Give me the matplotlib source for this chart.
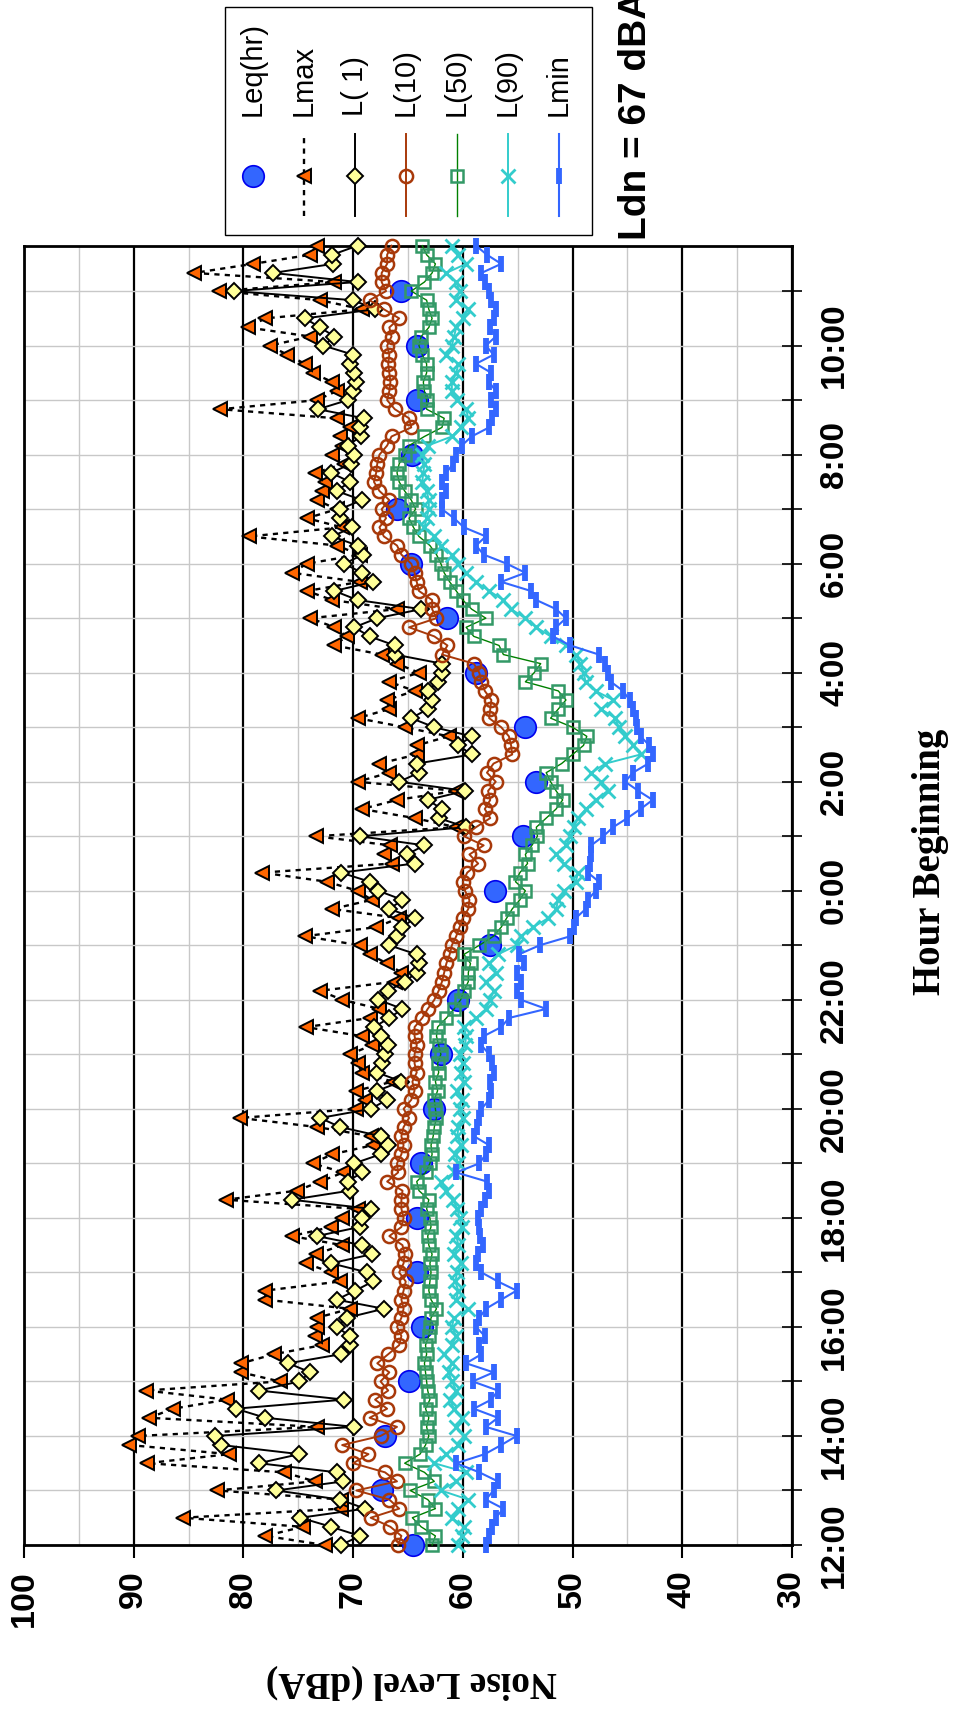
import matplotlib
matplotlib.use('Agg')
import matplotlib.pyplot as plt
from matplotlib.patches import Rectangle
import numpy as np

plt.rcParams['font.family'] = ['Liberation Sans', 'DejaVu Sans']

# hourly Leq, hour beginning 12:00 ... 11:00
leq_hr = [64.5, 67.4, 67.1, 64.9, 63.7, 64.2, 64.2, 63.8, 62.6, 62.0, 60.4, 57.5,
          57.1, 54.5, 53.3, 54.3, 58.8, 61.4, 64.7, 66.0, 64.6, 64.2, 64.2, 65.6]

# 10-minute values starting 12:00 (144 intervals)
lmax = [72.6, 78.0, 74.6, 85.5, 71.1, 71.1, 82.4, 73.5, 76.3, 88.8,
        81.3, 90.4, 89.6, 73.3, 88.6, 86.4, 81.5, 88.9, 76.7, 80.2,
        80.2, 77.2, 72.8, 73.5, 73.3, 73.3, 70.3, 78.0, 78.0, 71.2,
        72.0, 74.3, 73.4, 71.0, 75.6, 72.0, 71.0, 69.6, 81.6, 75.1,
        73.0, 70.9, 73.7, 71.9, 68.2, 68.4, 73.3, 80.3, 69.7, 68.9,
        69.7, 66.4, 69.2, 69.6, 70.3, 68.3, 69.2, 74.3, 68.5, 67.6,
        71.0, 73.0, 66.2, 65.6, 66.9, 68.5, 69.4, 74.4, 67.9, 65.8,
        71.9, 68.3, 69.6, 72.4, 78.3, 66.5, 67.2, 66.6, 73.4, 60.6,
        64.4, 69.2, 66.0, 60.6, 69.6, 66.7, 67.6, 64.2, 64.2, 61.3,
        65.3, 69.6, 66.7, 66.9, 64.4, 66.7, 64.0, 66.0, 67.4, 71.7,
        70.6, 71.7, 73.9, 66.0, 71.9, 74.2, 69.4, 75.6, 74.2, 69.4,
        71.5, 79.5, 71.0, 74.2, 71.5, 73.3, 72.8, 72.6, 73.5, 70.8,
        71.9, 71.0, 71.2, 70.3, 71.5, 82.1, 73.3, 71.5, 71.9, 73.7,
        74.4, 76.0, 77.6, 73.9, 79.6, 78.0, 69.2, 73.0, 82.2, 71.7,
        84.5, 79.1, 73.9, 73.3]

l01 = [71.1, 69.4, 72.0, 74.8, 68.9, 71.2, 77.0, 70.9, 71.5, 78.6,
       74.9, 82.0, 82.6, 69.9, 78.0, 80.7, 70.8, 78.6, 74.9, 73.9,
       75.9, 71.1, 70.3, 70.3, 71.5, 70.6, 67.2, 71.5, 69.8, 68.2,
       68.7, 72.0, 68.3, 69.2, 73.3, 69.4, 69.2, 68.4, 75.6, 70.3,
       70.5, 69.2, 69.9, 67.5, 66.8, 67.5, 71.2, 73.0, 68.4, 66.9,
       67.8, 65.6, 67.8, 67.4, 67.1, 66.8, 67.5, 68.1, 66.7, 65.5,
       67.7, 66.8, 65.3, 64.2, 64.0, 64.2, 66.7, 66.0, 65.5, 64.4,
       66.7, 65.5, 67.7, 68.5, 71.1, 64.4, 65.1, 63.5, 69.4, 59.7,
       62.2, 61.9, 63.2, 59.8, 65.8, 64.0, 64.2, 59.2, 60.4, 59.2,
       62.6, 64.7, 63.2, 62.8, 63.2, 62.3, 61.9, 61.9, 66.2, 66.2,
       68.5, 69.9, 67.8, 63.8, 69.6, 71.7, 68.2, 69.2, 70.8, 69.1,
       69.6, 71.9, 70.1, 71.2, 71.2, 69.2, 71.5, 70.3, 72.0, 70.2,
       69.9, 70.5, 69.3, 69.4, 69.0, 73.2, 70.5, 70.0, 69.7, 69.9,
       70.3, 70.0, 72.7, 71.7, 73.0, 74.4, 68.0, 70.0, 80.9, 69.6,
       77.3, 71.8, 71.9, 69.6]

l10 = [65.9, 65.6, 66.6, 68.4, 65.8, 66.7, 69.7, 66.0, 67.1, 70.0,
       68.6, 71.0, 67.5, 66.0, 68.5, 66.9, 68.0, 66.8, 67.5, 66.7,
       67.8, 66.8, 65.8, 65.6, 66.0, 65.6, 65.4, 65.6, 65.4, 65.2,
       65.8, 65.4, 65.3, 65.5, 66.7, 65.6, 65.4, 65.6, 65.6, 65.5,
       66.9, 65.9, 66.0, 65.6, 65.4, 65.6, 65.4, 64.9, 65.4, 64.7,
       64.4, 64.6, 64.2, 64.4, 64.4, 64.2, 64.4, 64.4, 63.7, 63.2,
       62.6, 62.2, 61.9, 61.7, 61.5, 61.2, 61.0, 60.6, 60.3, 60.0,
       59.5, 59.4, 59.8, 60.0, 59.6, 58.6, 59.4, 58.1, 59.9, 58.8,
       57.5, 58.0, 57.5, 57.7, 57.0, 57.8, 57.2, 55.5, 55.6, 55.8,
       56.5, 57.6, 57.5, 57.4, 58.0, 58.3, 58.5, 59.0, 61.9, 61.4,
       62.6, 64.9, 62.4, 62.8, 62.8, 64.0, 64.2, 64.4, 64.7, 65.6,
       66.0, 67.2, 67.6, 67.0, 67.4, 66.7, 67.6, 68.1, 67.9, 67.8,
       67.6, 66.9, 66.5, 64.7, 64.9, 66.2, 66.9, 66.7, 66.6, 66.7,
       66.8, 66.7, 66.9, 66.5, 66.7, 65.8, 67.2, 68.5, 67.0, 67.4,
       67.4, 66.9, 66.9, 66.5]

l50 = [62.8, 62.5, 63.8, 64.6, 62.5, 63.2, 64.8, 62.6, 63.5, 65.3,
       63.9, 63.4, 63.1, 63.3, 63.1, 63.4, 63.0, 63.2, 63.3, 63.4,
       63.5, 63.3, 63.4, 63.1, 63.0, 62.9, 62.4, 62.9, 63.1, 63.0,
       62.9, 63.0, 62.8, 63.1, 63.2, 62.9, 63.0, 63.3, 63.1, 64.0,
       64.2, 63.4, 63.0, 62.8, 62.9, 62.7, 62.6, 62.4, 62.5, 62.6,
       62.3, 62.5, 62.2, 62.3, 62.0, 62.2, 62.4, 62.3, 61.5, 60.8,
       60.2, 59.9, 59.5, 59.5, 59.3, 59.9, 58.5, 57.2, 56.5, 56.0,
       55.5, 54.8, 54.3, 55.2, 54.8, 54.1, 54.3, 53.7, 53.2, 53.3,
       52.4, 51.5, 50.9, 51.5, 52.0, 52.4, 51.0, 50.0, 49.0, 48.7,
       50.0, 52.0, 51.3, 50.6, 51.3, 54.3, 53.5, 52.9, 56.3, 56.7,
       59.0, 59.7, 57.9, 59.2, 60.0, 60.6, 61.2, 61.7, 62.0, 62.4,
       63.0, 64.0, 64.5, 64.9, 64.3, 64.7, 65.3, 65.8, 66.0, 65.8,
       65.3, 64.9, 63.5, 61.9, 61.7, 63.3, 63.3, 63.5, 63.6, 63.3,
       63.3, 63.7, 64.0, 63.8, 63.1, 62.8, 63.1, 63.3, 64.7, 63.5,
       62.8, 62.5, 63.3, 63.7]

l90 = [60.4, 60.1, 59.9, 61.0, 60.4, 59.5, 62.0, 60.6, 59.7, 62.6,
       61.5, 60.4, 59.9, 60.6, 60.1, 60.8, 61.2, 60.6, 61.0, 61.3,
       61.0, 61.7, 61.0, 60.6, 61.0, 60.8, 59.5, 60.6, 60.4, 60.7,
       60.5, 60.2, 60.8, 60.4, 60.6, 60.1, 60.3, 60.5, 60.9, 61.5,
       62.0, 60.8, 60.4, 60.7, 60.2, 60.5, 60.4, 60.0, 60.3, 60.1,
       60.5, 59.9, 60.2, 60.0, 60.3, 59.8, 59.7, 59.9, 58.8, 57.9,
       57.5, 57.2, 57.9, 57.0, 57.6, 56.8, 55.1, 54.7, 53.6, 52.2,
       51.5, 51.3, 50.8, 49.7, 49.5, 50.8, 51.5, 50.6, 50.2, 49.9,
       49.5, 48.8, 47.9, 46.8, 47.4, 48.3, 47.0, 43.8, 44.5, 45.2,
       45.8, 46.1, 47.4, 46.3, 47.9, 48.8, 49.0, 49.3, 49.7, 50.6,
       52.0, 53.3, 54.3, 55.6, 56.3, 57.6, 58.8, 59.7, 60.4, 61.0,
       62.0, 62.6, 63.5, 63.3, 63.1, 63.1, 63.3, 63.7, 63.6, 63.5,
       63.7, 63.2, 61.0, 60.2, 59.5, 59.7, 60.5, 61.0, 61.0, 60.6,
       60.4, 61.5, 61.0, 60.8, 60.6, 60.0, 59.5, 60.6, 60.3, 60.6,
       61.5, 59.7, 60.4, 61.0]

lmin = [57.9, 57.6, 57.3, 57.0, 56.3, 57.9, 57.2, 56.8, 58.5, 60.6,
        58.0, 56.5, 55.1, 57.9, 56.8, 59.0, 57.4, 56.8, 59.1, 57.2,
        59.7, 58.3, 58.5, 58.0, 58.8, 58.5, 57.9, 56.5, 55.1, 56.8,
        58.3, 58.8, 58.6, 58.2, 58.4, 58.5, 58.6, 58.3, 58.0, 57.6,
        57.8, 60.6, 58.5, 57.9, 57.6, 59.0, 58.7, 58.5, 58.3, 57.6,
        57.4, 57.5, 57.2, 57.3, 57.6, 58.3, 58.1, 56.5, 55.8, 52.4,
        54.7, 55.1, 54.7, 55.1, 54.4, 54.9, 53.0, 50.2, 49.9, 49.7,
        48.8, 48.6, 47.9, 47.6, 48.6, 48.4, 48.3, 48.3, 47.2, 46.3,
        45.0, 43.8, 42.7, 44.0, 45.2, 44.5, 43.1, 42.7, 43.0, 43.8,
        44.1, 44.2, 44.5, 44.8, 45.4, 46.5, 46.8, 47.0, 47.6, 50.2,
        51.8, 51.5, 50.6, 51.5, 53.3, 53.8, 56.5, 54.3, 56.0, 58.1,
        58.8, 57.9, 59.9, 60.8, 61.9, 61.9, 61.5, 61.9, 61.5, 60.9,
        60.6, 60.1, 59.2, 57.6, 57.3, 57.0, 57.4, 57.0, 57.6, 57.4,
        58.8, 57.2, 57.9, 57.0, 57.5, 57.2, 57.0, 57.4, 57.6, 58.0,
        58.3, 56.5, 57.8, 58.8]

hour_labels = ['12:00', '14:00', '16:00', '18:00', '20:00', '22:00',
               '0:00', '2:00', '4:00', '6:00', '8:00', '10:00']
noise_ticks = [100, 90, 80, 70, 60, 50, 40, 30]
legend_names = ['Leq(hr)', 'Lmax', 'L( 1)', 'L(10)', 'L(50)', 'L(90)', 'Lmin']

# time axis in hours after 12:00
t = np.arange(len(lmax)) / 6.0
t_hr = np.arange(len(leq_hr))

styles = [
    dict(ls='none', marker='o', ms=15.5, mfc='#3366FF', mec='#0000EE', mew=1.2),
    dict(color='black', ls=(0, (2.2, 2.2)), lw=1.7, marker='<', ms=10.5,
         mfc='#FF6600', mec='black', mew=1.4),
    dict(color='black', lw=1.4, marker='D', ms=8, mfc='#FFFF99', mec='black', mew=1.4),
    dict(color='#A8390A', lw=1.4, marker='o', ms=9.5, mfc='none', mec='#A8390A', mew=1.8),
    dict(color='#008000', lw=1.0, marker='s', ms=9, mfc='none', mec='#339966', mew=1.8),
    dict(color='#33CCCC', lw=1.4, marker='x', ms=10, mec='#33CCCC', mew=2.0),
    dict(color='#3366FF', lw=1.5, marker='|', ms=11.5, mec='#3366FF', mew=4.2),
]

fig = plt.figure(figsize=(9.56, 17.18), dpi=100)
ax = fig.add_axes([0.0251, 0.1007, 0.8033, 0.7563])

series = [(leq_hr, t_hr), (lmax, t), (l01, t), (l10, t), (l50, t), (l90, t), (lmin, t)]
for k, (vals, tt) in enumerate(series):
    ax.plot(vals, tt, clip_on=False, zorder=3 + k, **styles[k])

ax.set_xlim(100, 30)
ax.set_ylim(0, t[-1])
ax.set_axisbelow(True)

ax.set_xticks(noise_ticks)
ax.set_xticklabels([str(v) for v in noise_ticks], rotation=90,
                   fontsize=24.5, fontweight='bold')
ax.set_xticks(np.arange(35, 100, 10), minor=True)
ax.tick_params(axis='x', which='major', direction='out', length=9, width=1.5, pad=9)
ax.tick_params(axis='x', which='minor', length=0)
ax.grid(axis='x', which='major', color='black', lw=1.6)
ax.grid(axis='x', which='minor', color='#C8C8C8', lw=1.0)

ax.yaxis.tick_right()
ax.set_yticks(np.arange(0, 24))
ylabels = []
for h in range(24):
    ylabels.append(hour_labels[h // 2] if h % 2 == 0 else '')
ax.set_yticklabels(ylabels, rotation=90, va='center', fontsize=24, fontweight='bold')
ax.tick_params(axis='y', direction='inout', length=15, width=1.2, pad=12)
ax.grid(axis='y', which='major', color='#C8C8C8', lw=1.0)

for s in ax.spines.values():
    s.set_linewidth(2.0)

# overlay in pixel coordinates for rotated legend and titles
ov = fig.add_axes([0, 0, 1, 1])
ov.set_xlim(0, 956)
ov.set_ylim(1718, 0)
ov.axis('off')
ov.patch.set_alpha(0)

ov.add_patch(Rectangle((225, 7), 367, 228, fill=False, ec='black', lw=1.0))
for k, name in enumerate(legend_names):
    x = 253 + 51 * k
    st = dict(styles[k])
    if k > 0:
        line_st = {kk: v for kk, v in st.items() if kk in ('color', 'ls', 'lw')}
        ov.plot([x, x], [216, 134], **line_st)
    mk = {kk: v for kk, v in st.items() if kk not in ('color', 'ls', 'lw')}
    ov.plot([x], [176], ls='none', **mk)
    ov.text(x, 116, name, rotation=90, ha='center', va='bottom', fontsize=21)

ov.text(636, 240, 'Ldn = 67 dBA', rotation=90, ha='center', va='bottom',
        fontsize=28, fontweight='bold')

ov.text(931, 862, 'Hour Beginning', rotation=90, ha='center', va='center',
        fontsize=28, fontweight='bold', family='Liberation Serif')
ov.text(411, 1682, 'Noise Level (dBA)', rotation=180, ha='center', va='center',
        fontsize=27, fontweight='bold', family='Liberation Serif')

fig.savefig('out.png', dpi=100)
